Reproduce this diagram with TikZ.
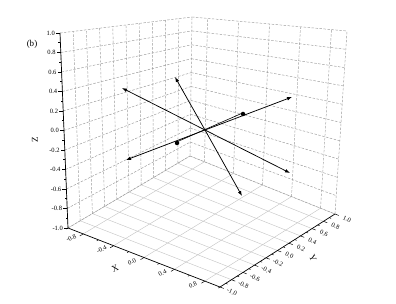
\documentclass[tikz,border=0pt]{standalone}
\usepackage{fontspec}
\setmainfont{Liberation Serif}
\usetikzlibrary{calc,arrows.meta}
\begin{document}
\begin{tikzpicture}[x=1pt,y=-1pt,
  wallgrid/.style={gray!80, line width=0.45pt, dash pattern=on 2.5pt off 1.5pt},
  floorgrid/.style={gray!45, line width=0.45pt},
  axisline/.style={black, line width=0.7pt},
  tickline/.style={black, line width=0.5pt},
  vec/.style={black, line width=0.75pt, -{Latex[length=5pt,width=3.6pt]}},
  ticklab/.style={font=\fontsize{6.5}{7}\selectfont, inner sep=0pt},
  axlab/.style={font=\fontsize{9}{10}\selectfont, inner sep=0pt},
  dotmark/.style={circle, fill=black, inner sep=0pt, minimum size=4.5pt},
]
\useasboundingbox (0,0) rectangle (396,304);
% box corners
\coordinate (A) at (68,228);
\coordinate (B) at (220,287);
\coordinate (C) at (335,214);
\coordinate (D) at (190,156);
\coordinate (TL) at (60,33);
\coordinate (TB) at (192,17);
\coordinate (TR) at (347,31);
% floor grid
\foreach \t in {0.1,0.3,0.5,0.7,0.9}{
  \draw[floorgrid] ($(A)!\t!(B)$) -- ($(D)!\t!(C)$);
}
\foreach \i in {1,...,10}{
  \pgfmathsetmacro\t{\i/10}
  \draw[floorgrid] ($(A)!\t!(D)$) -- ($(B)!\t!(C)$);
}
\draw[floorgrid] (A) -- (D);
% walls
\foreach \i in {0,...,10}{
  \pgfmathsetmacro\t{\i/10}
  \draw[wallgrid] ($(A)!\t!(D)$) -- ($(TL)!\t!(TB)$);
  \draw[wallgrid] ($(A)!\t!(TL)$) -- ($(D)!\t!(TB)$);
  \draw[wallgrid] ($(D)!\t!(TB)$) -- ($(C)!\t!(TR)$);
}
\foreach \t in {0.1,0.3,0.5,0.7,0.9}{
  \draw[wallgrid] ($(D)!\t!(C)$) -- ($(TB)!\t!(TR)$);
}
\draw[wallgrid] (C) -- (TR);
% axes
\draw[axisline] (A) -- (TL);
\draw[axisline] (A) -- (B) -- (C);
% Z ticks and labels
\foreach \t/\l in {0/-1.0,0.1/-0.8,0.2/-0.6,0.3/-0.4,0.4/-0.2,0.5/0.0,0.6/0.2,0.7/0.4,0.8/0.6,0.9/0.8,1/1.0}{
  \draw[tickline] ($(A)!\t!(TL)$) -- ++(-4,0);
  \node[ticklab, anchor=east] at ($(A)!\t!(TL)+(-5,0)$) {\l};
}
\foreach \t in {0.05,0.15,0.25,0.35,0.45,0.55,0.65,0.75,0.85,0.95}{
  \draw[tickline] ($(A)!\t!(TL)$) -- ++(-2,0);
}
% X ticks and labels
\foreach \t/\l in {0.1/-0.8,0.3/-0.4,0.5/0.0,0.7/0.4,0.9/0.8}{
  \draw[tickline] ($(A)!\t!(B)$) -- ++(-3.4,2.1);
  \node[ticklab, rotate=25] at ($(A)!\t!(B)+(-12,4)$) {\l};
}
\foreach \t in {0,0.2,0.4,0.6,0.8,1}{
  \draw[tickline] ($(A)!\t!(B)$) -- ++(-1.7,1.05);
}
% Y ticks and labels
\foreach \t/\l in {0/-1.0,0.1/-0.8,0.2/-0.6,0.3/-0.4,0.4/-0.2,0.5/0.0,0.6/0.2,0.7/0.4,0.8/0.6,0.9/0.8,1/1.0}{
  \draw[tickline] ($(B)!\t!(C)$) -- ++(3.7,1.45);
  \node[ticklab, rotate=-25] at ($(B)!\t!(C)+(12,5)$) {\l};
}
\foreach \t in {0.05,0.15,0.25,0.35,0.45,0.55,0.65,0.75,0.85,0.95}{
  \draw[tickline] ($(B)!\t!(C)$) -- ++(1.9,0.75);
}
% axis titles
\node[axlab, rotate=90] (zl) at (35,140) {Z};
\node[axlab, rotate=25] (xl) at (115,268) {X};
\node[axlab, rotate=-65] (yl) at (313,258) {Y};
\node[axlab] (tag) at (32,44) {(b)};
% vectors
\coordinate (O) at (205,130);
\coordinate (E1) at (122,88);
\coordinate (E2) at (290,173);
\coordinate (E3) at (175,77);
\coordinate (E4) at (242,196);
\coordinate (E5) at (126,160);
\coordinate (E6) at (292,97);
\draw[vec] (O) -- (E1);
\draw[vec] (O) -- (E2);
\draw[vec] (O) -- (E3);
\draw[vec] (O) -- (E4);
\draw[vec] (O) -- (E5);
\draw[vec] (O) -- (E6);
\node[dotmark] (d1) at (177,143) {};
\node[dotmark] (d2) at (243,114) {};
\draw[black, line width=0.6pt] ($(d1)+(0.5,-1.4)$) -- ($(d2)+(0.5,-1.4)$);
\end{tikzpicture}
\end{document}
